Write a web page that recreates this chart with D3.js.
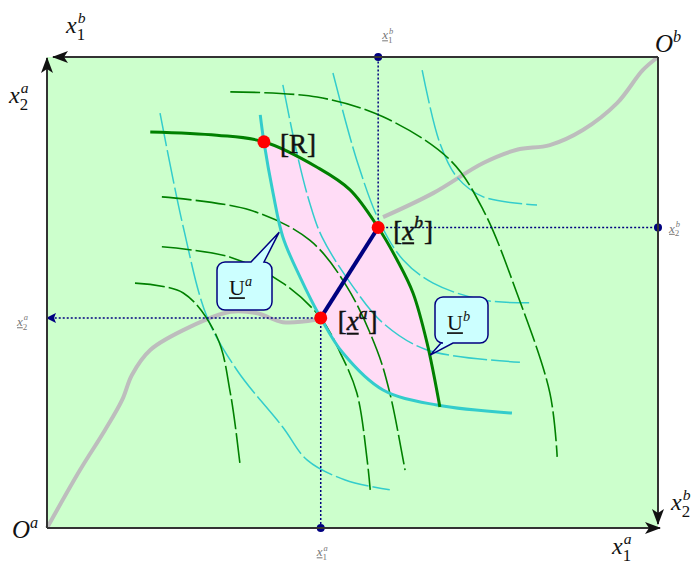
<!DOCTYPE html>
<html>
<head>
<meta charset="utf-8">
<script src="https://cdn.jsdelivr.net/npm/d3@7"></script>
<style>body{margin:0;background:#fff}</style>
</head>
<body>
<svg width="696" height="568"></svg>
<script>
// Edgeworth box, units 0..10 on both sides, O^a bottom-left, O^b top-right
const pointR = [3.55, 8.20];
const pointXb = [5.42, 6.38];
const pointXa = [4.48, 4.46];

// b indifference curve through R and x^b (thick green)
const curveUbR = [[1.69, 8.41], [2.78, 8.34], [3.55, 8.20], [4.42, 7.66], [4.96, 7.18],
    [5.42, 6.38], [5.73, 5.69], [5.99, 4.99], [6.22, 3.93], [6.43, 2.57]];
// a indifference curve through R and x^a (thick cyan)
const curveUaR = [[3.49, 8.77], [3.55, 8.20], [3.70, 7.11], [3.86, 6.18], [4.14, 5.33],
    [4.48, 4.46], [4.84, 3.72], [5.50, 2.93], [6.38, 2.61], [7.61, 2.44]];

// other indifference curves of a (cyan)
const cyanA1 = [[1.85, 8.81], [2.23, 6.39], [2.62, 4.48], [3.11, 3.35], [3.86, 2.14], [4.26, 1.44], [4.88, 1.02], [5.61, 0.81]];
const cyanA3 = [[3.86, 9.41], [4.09, 7.96], [4.30, 6.90], [4.50, 6.18], [5.01, 5.12], [5.50, 4.35], [6.22, 3.78], [7.74, 3.52]];
const cyanA4 = [[4.68, 9.66], [5.07, 7.81], [5.45, 6.48], [5.83, 5.69], [6.32, 5.20], [7.14, 4.84], [7.94, 4.78]];
const cyanA5 = [[6.14, 9.72], [6.43, 8.17], [6.71, 7.45], [7.14, 7.03], [8.02, 6.86]];

// other indifference curves of b (green)
const greenB2 = [[3.00, 9.26], [4.42, 9.15], [5.50, 8.73], [6.60, 7.81], [7.14, 6.75], [7.69, 4.99], [8.23, 2.87], [8.35, 1.51]];
const greenB3 = [[1.88, 7.03], [3.32, 6.75], [4.30, 6.11], [4.91, 5.12], [5.40, 3.78], [5.61, 2.87], [5.83, 1.44], [5.86, 1.23]];
const greenB4 = [[1.88, 5.97], [3.00, 5.75], [3.86, 5.20], [4.48, 4.46], [4.80, 3.72], [5.07, 2.87], [5.24, 1.44], [5.29, 0.81]];
const greenB5 = [[1.44, 5.20], [2.23, 4.99], [2.78, 4.06], [3.00, 2.87], [3.16, 1.34]];

// contract curve (grey), split by the core segment
const contractLow = [[0, 0], [0.54, 1.23], [0.95, 2.08], [1.23, 2.72], [1.39, 3.25], [1.69, 3.78],
    [2.34, 4.27], [3.00, 4.59], [3.44, 4.56], [3.86, 4.37], [4.40, 4.42]];
const contractHigh = [[5.50, 6.60], [6.32, 7.11], [7.14, 7.75], [7.69, 8.03], [8.23, 8.13],
    [8.77, 8.45], [9.33, 9.02], [9.75, 9.72], [10, 10]];

const svg = d3.select('svg');

const x = d3.scaleLinear().domain([0, 10]).range([47, 658]);
const y = d3.scaleLinear().domain([0, 10]).range([528, 57]);

const line = d3.line().x(d => x(d[0])).y(d => y(d[1])).curve(d3.curveCatmullRom.alpha(0.5));

const defs = svg.append('defs');
defs.append('marker').attr('id', 'arr')
    .attr('viewBox', '0 0 16 12').attr('refX', 15).attr('refY', 6)
    .attr('markerWidth', 16).attr('markerHeight', 12).attr('markerUnits', 'userSpaceOnUse')
    .attr('orient', 'auto')
    .append('path').attr('d', 'M0,0 L16,6 L0,12 L4,6 Z').attr('fill', '#111');
defs.append('marker').attr('id', 'arrBlue')
    .attr('viewBox', '0 0 10 10').attr('refX', 9).attr('refY', 5)
    .attr('markerWidth', 10).attr('markerHeight', 10).attr('markerUnits', 'userSpaceOnUse')
    .attr('orient', 'auto')
    .append('path').attr('d', 'M0,0 L10,5 L0,10 L2,5 Z').attr('fill', '#000080');

// background of the box
svg.append('rect')
    .attr('x', x(0)).attr('y', y(10))
    .attr('width', x(10) - x(0)).attr('height', y(0) - y(10))
    .attr('fill', '#ccffcc');

// lens between the two curves through R
const lensA = line(curveUbR.slice(2));
const lensB = line(curveUaR.slice(1, 9).reverse());
svg.append('path')
    .attr('d', lensA + lensB.replace(/^M/, 'L') + 'Z')
    .attr('fill', '#ffdcf6');

// contract curve
[contractLow, contractHigh].forEach(c => {
    svg.append('path').attr('d', line(c))
        .attr('fill', 'none').attr('stroke', '#bdbdbd').attr('stroke-width', 4);
});

// thin indifference curves
[cyanA1, cyanA3, cyanA4, cyanA5].forEach(c => {
    svg.append('path').attr('d', line(c))
        .attr('fill', 'none').attr('stroke', '#33cccc').attr('stroke-width', 1.5)
        .attr('stroke-dasharray', '34,4');
});
[greenB2, greenB3, greenB4, greenB5].forEach(c => {
    svg.append('path').attr('d', line(c))
        .attr('fill', 'none').attr('stroke', '#008000').attr('stroke-width', 1.6)
        .attr('stroke-dasharray', '30,4');
});

// thick curves through R
svg.append('path').attr('d', line(curveUaR))
    .attr('fill', 'none').attr('stroke', '#33cccc').attr('stroke-width', 3);
svg.append('path').attr('d', line(curveUbR))
    .attr('fill', 'none').attr('stroke', '#008000').attr('stroke-width', 3);

// dotted guides
const dotted = (x1, y1, x2, y2, end) => {
    const l = svg.append('line')
        .attr('x1', x(x1)).attr('y1', y(y1)).attr('x2', x(x2)).attr('y2', y(y2))
        .attr('stroke', '#000080').attr('stroke-width', 1.5).attr('stroke-dasharray', '2,2');
    if (end) l.attr('marker-end', end);
};
dotted(pointXb[0], pointXb[1], pointXb[0], 10);
dotted(pointXb[0], pointXb[1], 10, pointXb[1]);
dotted(pointXa[0], pointXa[1], pointXa[0], 0);
dotted(pointXa[0], pointXa[1], 0, pointXa[1], 'url(#arrBlue)');

// guide ends on the frame
[[pointXb[0], 10], [10, pointXb[1]], [pointXa[0], 0]].forEach(p => {
    svg.append('circle').attr('cx', x(p[0])).attr('cy', y(p[1])).attr('r', 4).attr('fill', '#000080');
});

// core segment
svg.append('line')
    .attr('x1', x(pointXa[0])).attr('y1', y(pointXa[1]))
    .attr('x2', x(pointXb[0])).attr('y2', y(pointXb[1]))
    .attr('stroke', '#000080').attr('stroke-width', 4);

// points
[pointR, pointXb, pointXa].forEach(p => {
    svg.append('circle').attr('cx', x(p[0])).attr('cy', y(p[1])).attr('r', 6.5).attr('fill', '#ff0000');
});

// frame with arrows
const frame = (x1, y1, x2, y2, dx2, dy2) => {
    svg.append('line')
        .attr('x1', x(x1)).attr('y1', y(y1)).attr('x2', x(x2) + dx2).attr('y2', y(y2) + dy2)
        .attr('stroke', '#333').attr('stroke-width', 2).attr('marker-end', 'url(#arr)');
};
frame(10, 10, 0, 10, 6, 0);
frame(0, 0, 0, 10, 0, 1);
frame(0, 0, 10, 0, 2, 0);
frame(10, 10, 10, 0, 0, -4);

// text helper: parts placed one after another
function rich(px, py, parts, size, color, heavy) {
    let cx = px;
    const style = t => {
        t.attr('font-family', 'Liberation Serif').attr('fill', color);
        if (heavy) t.attr('stroke', color).attr('stroke-width', 0.5);
        return t;
    };
    parts.forEach(p => {
        if (p.sub !== undefined || p.sup !== undefined) {
            let w = 0;
            if (p.sub) {
                const t = style(svg.append('text')).attr('x', cx).attr('y', py + size * 0.3)
                    .attr('font-size', size * 0.7).text(p.sub);
                w = Math.max(w, t.node().getComputedTextLength());
            }
            if (p.sup) {
                const t = style(svg.append('text')).attr('x', cx + (p.sub ? 1 : 0)).attr('y', py - size * 0.42)
                    .attr('font-style', 'italic').attr('font-size', size * 0.65).text(p.sup);
                w = Math.max(w, t.node().getComputedTextLength());
            }
            cx += w + 1;
        } else {
            const t = style(svg.append('text')).attr('x', cx).attr('y', py)
                .attr('font-style', p.italic ? 'italic' : 'normal')
                .attr('font-size', size).text(p.t);
            const w = t.node().getComputedTextLength();
            if (p.u) {
                svg.append('line').attr('x1', cx).attr('x2', cx + w)
                    .attr('y1', py + size * 0.14).attr('y2', py + size * 0.14)
                    .attr('stroke', color).attr('stroke-width', Math.max(1, size / 13));
            }
            cx += w;
        }
    });
}

// point labels
rich(x(pointR[0]) + 16, y(pointR[1]) + 11, [{t: '[R]'}], 27, '#111', true);
rich(x(pointXb[0]) + 15, y(pointXb[1]) + 12, [{t: '['}, {t: 'x', italic: true, u: true}, {sup: 'b'}, {t: ']'}], 27, '#111', true);
rich(x(pointXa[0]) + 17, y(pointXa[1]) + 12, [{t: '['}, {t: 'x', italic: true, u: true}, {sup: 'a'}, {t: ']'}], 27, '#111', true);

// guide labels
rich(x(pointXb[0]) + 4, y(10) - 18, [{t: 'x', italic: true, u: true}, {sub: '1', sup: 'b'}], 13, '#777');
rich(x(10) + 11, y(pointXb[1]) + 5, [{t: 'x', italic: true, u: true}, {sub: '2', sup: 'b'}], 13, '#777');
rich(x(0) - 30, y(pointXa[1]) + 8, [{t: 'x', italic: true, u: true}, {sub: '2', sup: 'a'}], 13, '#777');
rich(x(pointXa[0]) - 4, y(0) + 28, [{t: 'x', italic: true, u: true}, {sub: '1', sup: 'a'}], 13, '#777');

// axis and origin labels
rich(66, 33, [{t: 'x', italic: true}, {sub: '1', sup: 'b'}], 24, '#111');
rich(9, 103, [{t: 'x', italic: true}, {sub: '2', sup: 'a'}], 24, '#111');
rich(671, 510, [{t: 'x', italic: true}, {sub: '2', sup: 'b'}], 24, '#111');
rich(612, 554, [{t: 'x', italic: true}, {sub: '1', sup: 'a'}], 24, '#111');
rich(655, 52, [{t: 'O', italic: true}, {sup: 'b'}], 25, '#111');
rich(12, 538, [{t: 'O', italic: true}, {sup: 'a'}], 25, '#111');

// callouts
function callout(tip, bx, by, bw, bh, t1, t2, sup) {
    const tx = x(tip[0]), ty = y(tip[1]);
    const r = 8;
    const p = d3.path();
    p.moveTo(bx + r, by);
    if (t1[1] === 0) { p.lineTo(bx + t1[0], by); p.lineTo(tx, ty); p.lineTo(bx + t2[0], by); }
    p.lineTo(bx + bw - r, by);
    p.arcTo(bx + bw, by, bx + bw, by + r, r);
    p.lineTo(bx + bw, by + bh - r);
    p.arcTo(bx + bw, by + bh, bx + bw - r, by + bh, r);
    if (t1[1] === 1) { p.lineTo(bx + t2[0], by + bh); p.lineTo(tx, ty); p.lineTo(bx + t1[0], by + bh); }
    p.lineTo(bx + r, by + bh);
    p.arcTo(bx, by + bh, bx, by + bh - r, r);
    p.lineTo(bx, by + r);
    p.arcTo(bx, by, bx + r, by, r);
    p.closePath();
    svg.append('path').attr('d', p.toString())
        .attr('fill', '#ccffff').attr('stroke', '#000080').attr('stroke-width', 1.5);
    rich(bx + 12, by + 33, [{t: 'U', u: true}, {sup: sup}], 22, '#111');
}
callout([3.80, 6.28], 217, 262, 55, 48, [34, 0], [47, 0], 'a');
callout([6.27, 3.67], 435, 297, 53, 46, [6, 1], [18, 1], 'b');
</script>
</body>
</html>
